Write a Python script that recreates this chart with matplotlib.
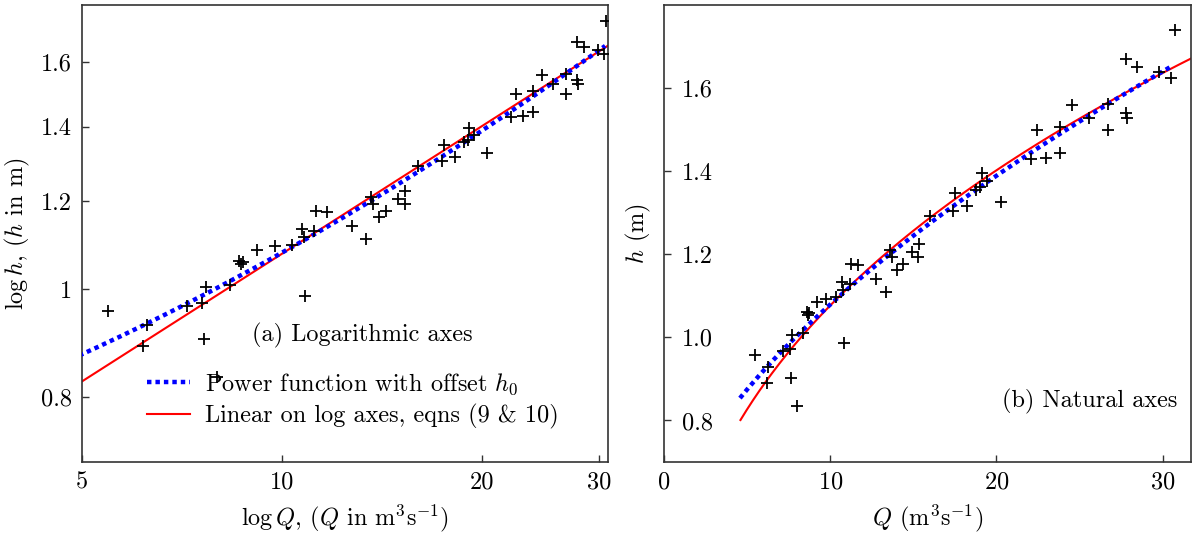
import numpy as np
import matplotlib
matplotlib.use("Agg")
import matplotlib.pyplot as plt

FS = 17.5
plt.rcParams["font.family"] = ["cmr10", "DejaVu Serif"]
plt.rcParams["mathtext.fontset"] = "cm"
plt.rcParams["axes.formatter.use_mathtext"] = True
plt.rcParams["font.size"] = FS

# Gauged discharge Q (m^3/s) and stage h (m)
Q_obs = [5.47, 6.27, 6.17, 7.62, 7.98, 7.18, 7.58, 7.68, 8.34, 8.62,
         8.68, 8.72, 9.18, 9.74, 10.34, 10.71, 10.78, 11.18, 11.24, 11.68,
         10.84, 12.75, 13.35, 13.59, 13.69, 13.99, 14.35, 14.92, 15.28, 15.32,
         16.0, 17.5, 17.4, 18.2, 18.75, 19.0, 19.1, 19.45, 20.3, 22.05,
         23.0, 22.45, 23.8, 23.85, 24.57, 25.57, 26.7, 26.72, 27.8, 27.88,
         27.8, 28.45, 29.8, 30.47, 30.72]
h_obs = [0.957, 0.929, 0.890, 0.902, 0.835, 0.967, 0.973, 1.005, 1.010, 1.061,
         1.053, 1.058, 1.085, 1.093, 1.097, 1.133, 1.115, 1.129, 1.177, 1.173,
         0.987, 1.141, 1.109, 1.211, 1.193, 1.161, 1.177, 1.205, 1.194, 1.225,
         1.291, 1.347, 1.303, 1.315, 1.355, 1.362, 1.395, 1.377, 1.325, 1.429,
         1.431, 1.499, 1.507, 1.443, 1.559, 1.529, 1.561, 1.499, 1.541, 1.529,
         1.669, 1.651, 1.639, 1.625, 1.741]

# Fitted rating curves
lin_a, lin_Qref, lin_b = 0.83, 5.05, 0.381      # h = a (Q/Qref)^b
pow_h0, pow_c, pow_p = 0.478, 0.151, 0.60       # h = h0 + c Q^p
lin_Qrange = (4.6, 32.5)
pow_Qrange = (4.57, 30.6)

Q_lin = np.linspace(*lin_Qrange, 300)
h_lin = lin_a * (Q_lin / lin_Qref) ** lin_b
Q_pow = np.linspace(*pow_Qrange, 300)
h_pow = pow_h0 + pow_c * Q_pow ** pow_p

W, H = 1195, 535
fig = plt.figure(figsize=(W / 100, H / 100), dpi=100)
axL = fig.add_axes([82 / W, 1 - 462 / H, 526 / W, 457 / H])
axR = fig.add_axes([664 / W, 1 - 462 / H, 527 / W, 457 / H])

spine_col = "#333333"
for ax in (axL, axR):
    for s in ax.spines.values():
        s.set_color(spine_col)
        s.set_linewidth(1.2)
    ax.tick_params(direction="in", length=5, width=1.0, color=spine_col,
                   top=False, right=False, labelsize=FS, pad=7)

def draw(ax):
    ax.plot(Q_pow, h_pow, color="#0000ff", lw=3.2, linestyle=(0, (1, 0.9)),
            label=r"Power function with offset $h_0$", zorder=3)
    ax.plot(Q_lin, h_lin, color="#ff0000", lw=1.5,
            label="Linear on log axes, eqns (9 & 10)", zorder=2)
    ax.plot(Q_obs, h_obs, linestyle="none", marker="+", ms=9, mew=1.3,
            color="black", zorder=4)

# (a) logarithmic axes
draw(axL)
axL.set_xscale("log")
axL.set_yscale("log")
axL.set_xlim(5, 30.9)
axL.set_ylim(0.7, 1.8)
axL.set_xticks([5, 10, 20, 30])
axL.set_xticklabels(["5", "10", "20", "30"])
axL.set_yticks([0.8, 1, 1.2, 1.4, 1.6])
axL.set_yticklabels(["0.8", "1", "1.2", "1.4", "1.6"])
axL.minorticks_off()
axL.set_xlabel(r"$\log Q$, ($Q$ in m$^3$s$^{-1}$)", fontsize=FS, labelpad=6.5)
axL.set_ylabel(r"$\log h$, ($h$ in m)", fontsize=FS, labelpad=7)
axL.text(0.532, 0.276, "(a) Logarithmic axes", transform=axL.transAxes,
         ha="center", va="center", fontsize=FS)
axL.legend(loc="lower left", bbox_to_anchor=(0.106, 0.05), frameon=False,
           handlelength=1.77, handletextpad=0.58, labelspacing=0.3,
           fontsize=FS, borderaxespad=0)

# (b) natural axes, y tick labels sit just inside the frame
draw(axR)
axR.set_xlim(0, 31.7)
axR.set_ylim(0.7, 1.8)
axR.set_xticks([0, 10, 20, 30])
axR.set_yticks([0.8, 1.0, 1.2, 1.4, 1.6])
axR.set_yticklabels(["0.8", "1.0", "1.2", "1.4", "1.6"])
axR.tick_params(axis="y", pad=-35.3)
axR.set_xlabel(r"$Q$ (m$^3$s$^{-1}$)", fontsize=FS, labelpad=6.5)
axR.set_ylabel(r"$h$ (m)", fontsize=FS, labelpad=8)
axR.text(0.975, 0.1335, "(b) Natural axes", transform=axR.transAxes,
         ha="right", va="center", fontsize=FS)

fig.savefig("out.png", dpi=100)
